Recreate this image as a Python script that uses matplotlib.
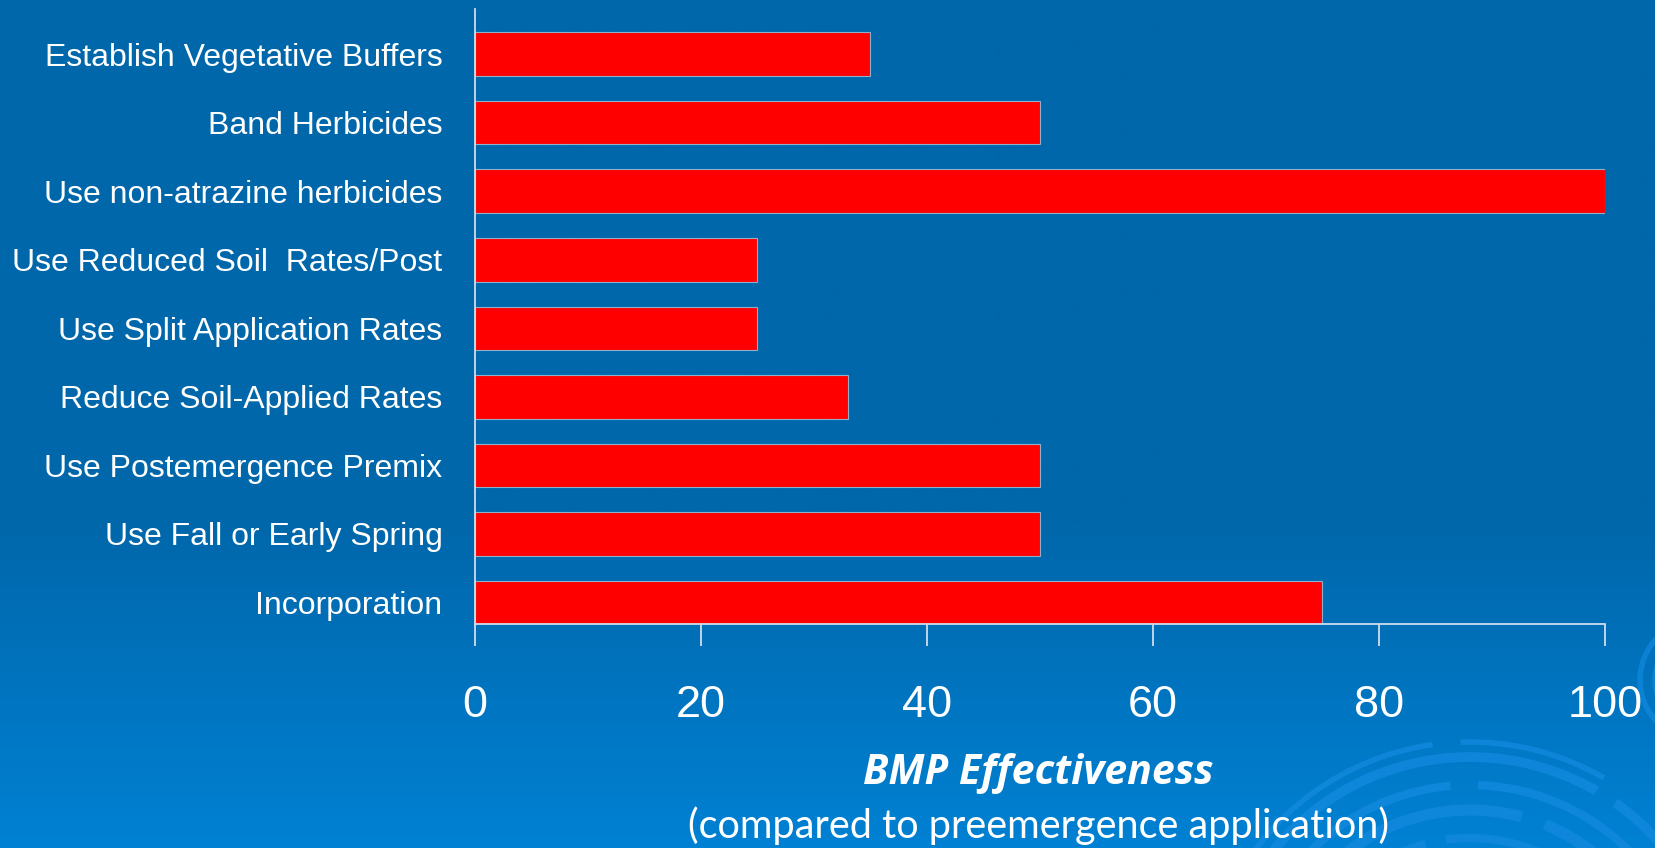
import numpy as np
import matplotlib.pyplot as plt
from matplotlib.patches import Arc
from matplotlib.colors import LinearSegmentedColormap

# data, listed top to bottom as in the chart
categories = ["Establish Vegetative Buffers",
              "Band Herbicides",
              "Use non-atrazine herbicides",
              "Use Reduced Soil  Rates/Post",
              "Use Split Application Rates",
              "Reduce Soil-Applied Rates",
              "Use Postemergence Premix",
              "Use Fall or Early Spring",
              "Incorporation"]
effectiveness = [35, 50, 100, 25, 25, 33, 50, 50, 75]
xticks = [0, 20, 40, 60, 80, 100]

W, H = 1655, 848
fig = plt.figure(figsize=(W / 100, H / 100), dpi=100)

# slide background: flat blue getting lighter towards the bottom
bg = fig.add_axes([0, 0, 1, 1], zorder=0)
bg.set_xlim(0, W)
bg.set_ylim(H, 0)
bg.axis("off")
rows = np.linspace(0, 1, 400)
shade = np.clip((rows - 0.62) / 0.38, 0, 1)
cmap = LinearSegmentedColormap.from_list("slide", ["#0067ab", "#0081d3"])
bg.imshow(shade[:, None], cmap=cmap, vmin=0, vmax=1, aspect="auto",
          extent=[0, W, H, 0])

# faint swirl in the lower right corner
swirl = "#1289de"
cx, cy = 1470, 1010
rings = [(268, 4, [(205, 262), (268, 300)]),
         (253, 7, [(200, 300), (305, 335)]),
         (225, 6, [(200, 265), (272, 330)]),
         (200, 8, [(215, 285), (292, 330)]),
         (172, 6, [(215, 255), (262, 320)]),
         (140, 10, [(220, 320)])]
for r, lw, spans in rings:
    for t1, t2 in spans:
        bg.add_patch(Arc((cx, cy), 2 * r, 2 * r, theta1=t1, theta2=t2,
                         color=swirl, lw=lw, alpha=0.8))
for r in [60, 45]:
    bg.add_patch(Arc((1700, 680), 2 * r, 2 * r, theta1=120, theta2=250,
                     color=swirl, lw=4, alpha=0.7))

ax = fig.add_axes([474.5 / W, 1 - 624.3 / H, (1605 - 474.5) / W, (624.3 - 9.3) / H],
                  zorder=1)
ax.patch.set_alpha(0)

pos = np.arange(len(categories))
ax.barh(pos, effectiveness, height=0.636, color="#ff0000",
        edgecolor="#8fb0cc", linewidth=0.8)

ax.set_xlim(0, 100)
ax.set_ylim(len(categories) - 1 + 0.318, -0.654)
ax.set_xticks(xticks)
ax.set_yticks(pos, categories)

for side in ["top", "right"]:
    ax.spines[side].set_visible(False)
for side in ["left", "bottom"]:
    ax.spines[side].set_color("#d0dcea")
    ax.spines[side].set_linewidth(1.3)

ax.tick_params(axis="x", colors="#d0dcea", length=16, width=1.3, pad=28,
               labelsize=32.5, labelcolor="white")
ax.tick_params(axis="y", length=0, pad=23, labelsize=23, labelcolor="white")
for lab in ax.get_xticklabels() + ax.get_yticklabels():
    lab.set_family("Liberation Sans")

fig.text(1038 / W, 1 - 774 / H, "BMP Effectiveness", ha="center", va="center",
         color="white", fontsize=29.5, fontweight="bold", fontstyle="italic",
         family="Open Sans")
fig.text(1038 / W, 1 - 826 / H, "(compared to preemergence application)",
         ha="center", va="center", color="white", fontsize=28.5, family="Lato")

plt.savefig("out.png", dpi=100)
